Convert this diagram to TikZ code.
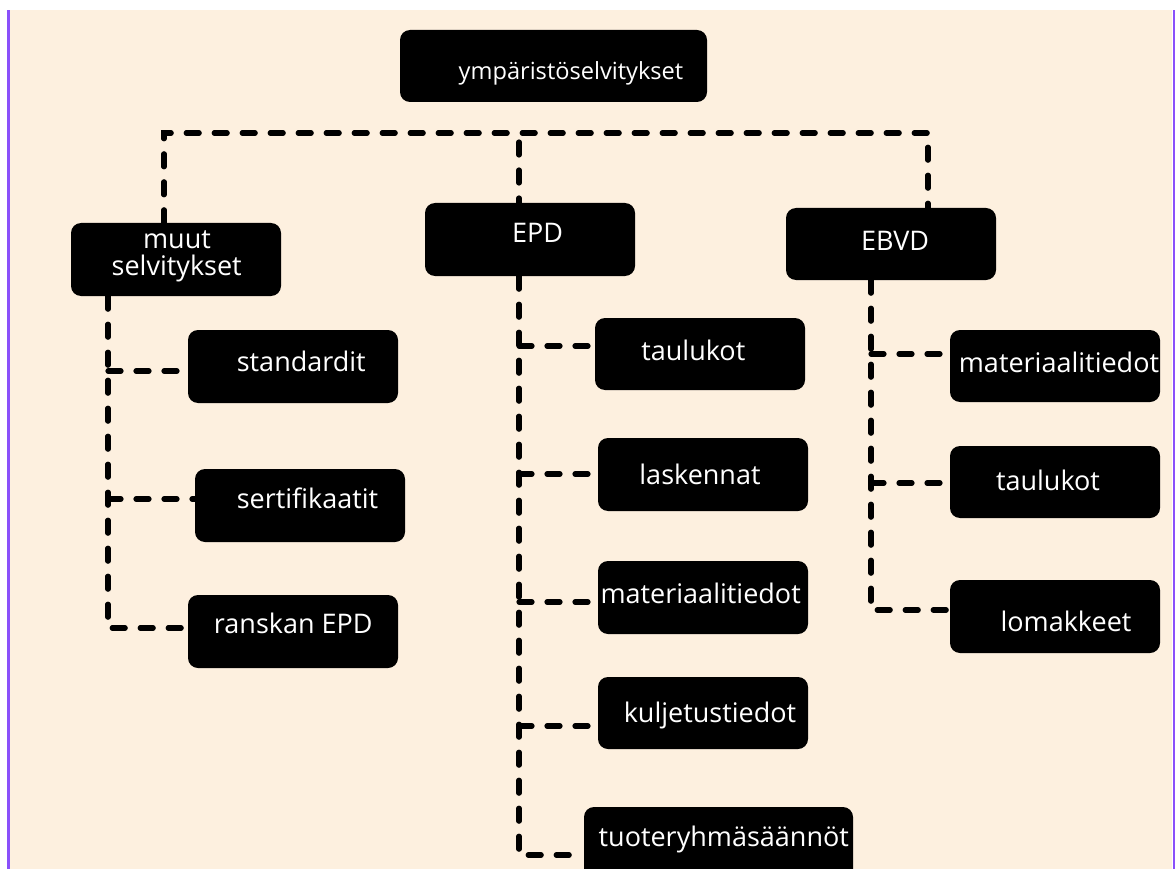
\documentclass[tikz,border=0pt]{standalone}
\usepackage{fontspec}
\setmainfont{Open Sans}
\definecolor{cream}{RGB}{253,240,223}
\definecolor{edge}{RGB}{138,80,250}
\begin{document}
\begin{tikzpicture}[x=1pt,y=-1pt,
  box/.style={fill=black, rounded corners=10pt, minimum width=210pt, minimum height=73pt, inner sep=0pt},
  lbl/.style={text=white, anchor=base, inner sep=0pt, font=\fontsize{27}{32}\selectfont},
  conn/.style={line width=5.2pt, dash pattern=on 13pt off 15pt, line cap=round}]
\useasboundingbox (0,0) rectangle (1175,869);
\fill[white] (0,0) rectangle (1175,869);
\fill[cream] (9,10) rectangle (1172,869);
\fill[edge] (7,10) rectangle (9.5,869);
\fill[edge] (1172.5,10) rectangle (1175,869);

% boxes
\node[box, minimum width=307pt, minimum height=72pt] (root) at (553.5,66) {};
\node[box] (muut) at (176,259.5) {};
\node[box] (epd) at (530,239.5) {};
\node[box, minimum height=72pt] (ebvd) at (891,244) {};
\node[box] (std) at (293,366.5) {};
\node[box] (sert) at (300,505.5) {};
\node[box] (ransk) at (293,631.5) {};
\node[box, minimum height=72pt] (tau1) at (700,354) {};
\node[box] (lask) at (703,474.5) {};
\node[box] (mat1) at (703,597.5) {};
\node[box, minimum height=72pt] (kulj) at (703,713) {};
\node[box, minimum width=269pt] (tuot) at (718.5,843.5) {};
\node[box, minimum height=72pt] (mat2) at (1055,366) {};
\node[box, minimum height=72pt] (tau2) at (1055,482) {};
\node[box] (lomak) at (1055,616.5) {};

% labels
\node[lbl, font=\fontsize{23.6}{28}\selectfont] (troot) at (571,80) {ympäristöselvitykset};
\node[lbl] (tmuut1) at (177,248) {muut};
\node[lbl] (tmuut2) at (176.7,275) {selvitykset};
\node[lbl] (tepd) at (537.5,242) {EPD};
\node[lbl] (tebvd) at (895,250) {EBVD};
\node[lbl] (tstd) at (301.3,371.7) {standardit};
\node[lbl] (tsert) at (307.5,508) {sertifikaatit};
\node[lbl] (transk) at (293.3,633) {ranskan EPD};
\node[lbl] (ttau1) at (693.3,360) {taulukot};
\node[lbl] (tlask) at (700,484) {laskennat};
\node[lbl] (tmat1) at (700.7,603) {materiaalitiedot};
\node[lbl] (tkulj) at (710,722.7) {kuljetustiedot};
\node[lbl] (ttuot) at (723.8,846.7) {tuoteryhmäsäännöt};
\node[lbl] (tmat2) at (1059,372.7) {materiaalitiedot};
\node[lbl] (ttau2) at (1048,490.7) {taulukot};
\node[lbl] (tlomak) at (1066,631.7) {lomakkeet};

% top connectors
\coordinate (hl) at (164,133);
\coordinate (hm) at (519,133);
\coordinate (hr) at (928,133);
\draw[conn] (muut.north -| hl) -- (hl) -- (hr) -- (ebvd.north -| hr);
\draw[conn] ([yshift=-9pt]hm) -- (epd.north -| hm);

% left subtree
\coordinate (lb1) at (108,371);
\coordinate (lb2) at (108,499);
\coordinate (lb3) at (108,628);
\draw[conn] (muut.south -| lb1) -- (lb3) -- (ransk.west |- lb3);
\draw[conn] (lb1) -- (std.west |- lb1);
\draw[conn] (lb2) -- (sert.west |- lb2);

% EPD subtree
\coordinate (e1) at (519,346);
\coordinate (e2) at (519,474);
\coordinate (e3) at (519,602);
\coordinate (e4) at (519,726);
\coordinate (e5) at (519,855);
\draw[conn] (epd.south -| e1) -- (e5) -- (tuot.west |- e5);
\draw[conn] (e1) -- (tau1.west |- e1);
\draw[conn] (e2) -- (lask.west |- e2);
\draw[conn] (e3) -- (mat1.west |- e3);
\draw[conn] (e4) -- (kulj.west |- e4);

% EBVD subtree
\coordinate (b1) at (871,354);
\coordinate (b2) at (871,483);
\coordinate (b3) at (871,610);
\draw[conn] (ebvd.south -| b1) -- (b3) -- (lomak.west |- b3);
\draw[conn] (b1) -- (mat2.west |- b1);
\draw[conn] (b2) -- (tau2.west |- b2);
\end{tikzpicture}
\end{document}
